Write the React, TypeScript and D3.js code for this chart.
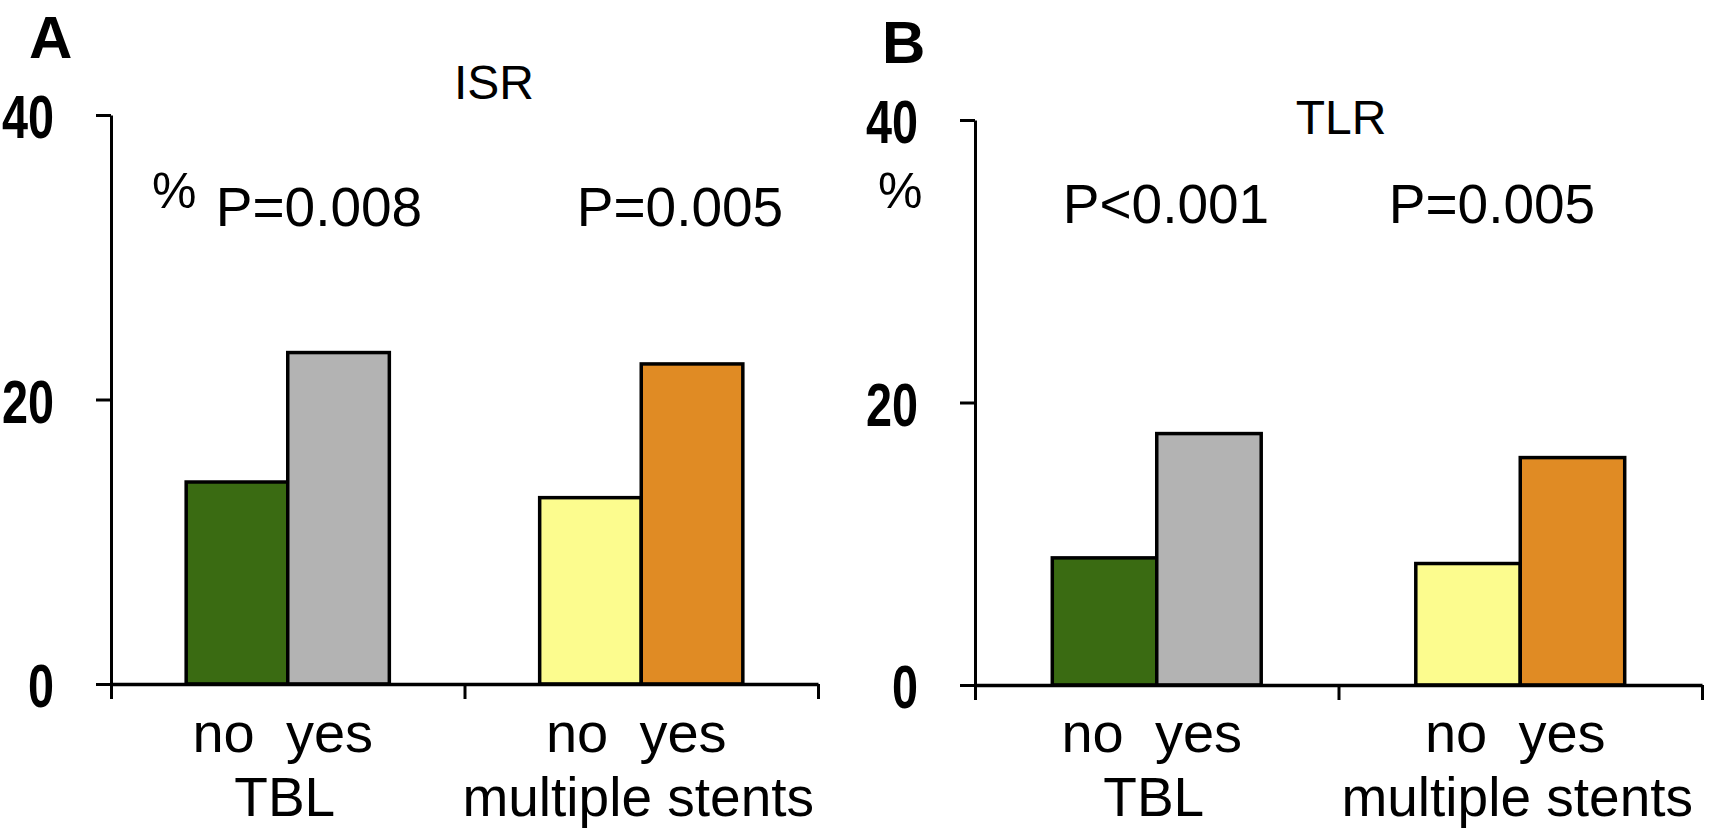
import React, { useEffect, useRef } from 'react';
import * as d3 from 'd3';

// categories and values
const groups = ['TBL', 'multiple stents'];
const levels = ['no', 'yes'];
const yTicks = [0, 20, 40];

const isrNo = [14.2, 13.1];
const isrYes = [23.3, 22.5];
const tlrNo = [9.0, 8.6];
const tlrYes = [17.8, 16.1];

const isrP = ['P=0.008', 'P=0.005'];
const tlrP = ['P<0.001', 'P=0.005'];

// fill per group / level
const fills = [
  ['#3a6b12', '#b3b3b3'],
  ['#fcfc8e', '#e08b24'],
];

const W = 1714;
const H = 831;
const sans = '"Liberation Sans", Arial, sans-serif';

interface Panel {
  letter: string;
  title: string;
  no: number[];
  yes: number[];
  p: string[];
  left: number;
  right: number;
  top: number;
  bottom: number;
  titleX: number;
  titleY: number;
  letterX: number;
  letterY: number;
  pctX: number;
  pctY: number;
  pX: number[];
  pY: number;
}

const panels: Panel[] = [
  {
    letter: 'A', title: 'ISR', no: isrNo, yes: isrYes, p: isrP,
    left: 111, right: 818, top: 115, bottom: 684,
    titleX: 494, titleY: 99, letterX: 29, letterY: 58,
    pctX: 152, pctY: 208, pX: [319, 680], pY: 226,
  },
  {
    letter: 'B', title: 'TLR', no: tlrNo, yes: tlrYes, p: tlrP,
    left: 975, right: 1702, top: 120, bottom: 685,
    titleX: 1341, titleY: 134, letterX: 882, letterY: 63,
    pctX: 878, pctY: 208, pX: [1166, 1492], pY: 223,
  },
];

const App: React.FC = () => {
  const svgRef = useRef<SVGSVGElement>(null);

  useEffect(() => {
    if (!svgRef.current) return;
    const root = d3.select(svgRef.current);
    root.selectAll('*').remove();

    root.append('rect').attr('width', W).attr('height', H).attr('fill', 'white');

    panels.forEach(pn => {
      const w = pn.right - pn.left;
      const g = root.append('g').attr('transform', `translate(${pn.left},0)`);

      const y = d3.scaleLinear().domain([0, 40]).range([pn.bottom, pn.top]);
      const x0 = d3.scaleBand<string>().domain(groups).range([0, w]).paddingInner(0).paddingOuter(0);
      const x1 = d3.scaleBand<string>().domain(levels).range([0, x0.bandwidth()]).paddingInner(0).paddingOuter(0.74);

      // bars
      groups.forEach((grp, gi) => {
        const vals = [pn.no[gi], pn.yes[gi]];
        g.append('g')
          .selectAll('rect')
          .data(levels)
          .join('rect')
          .attr('x', (lv) => (x0(grp) as number) + (x1(lv) as number))
          .attr('y', (_, i) => y(vals[i]))
          .attr('width', x1.bandwidth())
          .attr('height', (_, i) => y(0) - y(vals[i]))
          .attr('fill', (_, i) => fills[gi][i])
          .attr('stroke', '#000')
          .attr('stroke-width', 3.5);
      });

      // y axis
      const yAxis = g.append('g')
        .call(d3.axisLeft(y).tickValues(yTicks).tickSize(15).tickSizeOuter(0).tickPadding(42));
      yAxis.select('.domain').attr('stroke', '#000').attr('stroke-width', 3);
      yAxis.selectAll('.tick line').attr('stroke', '#000').attr('stroke-width', 3);
      yAxis.selectAll<SVGTextElement, number>('.tick text')
        .attr('fill', '#000')
        .attr('font-family', sans)
        .attr('font-weight', 'bold')
        .attr('font-size', 62)
        .attr('dy', '0.37em')
        .attr('textLength', d => String(d).length * 26)
        .attr('lengthAdjust', 'spacingAndGlyphs');

      // x axis, ticks on the group boundaries
      const xb = d3.scaleLinear().domain([0, groups.length]).range([0, w]);
      const xAxis = g.append('g')
        .attr('transform', `translate(0,${pn.bottom})`)
        .call(d3.axisBottom(xb).tickValues(d3.range(groups.length + 1)).tickSize(15).tickSizeOuter(0).tickFormat(() => ''));
      xAxis.select('.domain').attr('stroke', '#000').attr('stroke-width', 3.5);
      xAxis.selectAll('.tick line').attr('stroke', '#000').attr('stroke-width', 3);

      // category labels
      groups.forEach((grp, gi) => {
        const cx = (x0(grp) as number) + x0.bandwidth() / 2;
        g.append('text')
          .attr('x', cx - 5)
          .attr('y', 752)
          .attr('text-anchor', 'middle')
          .attr('font-family', sans)
          .attr('font-size', 56)
          .style('white-space', 'pre')
          .text(levels.join('  '));
        g.append('text')
          .attr('x', cx - 3)
          .attr('y', 816)
          .attr('text-anchor', 'middle')
          .attr('font-family', sans)
          .attr('font-size', 55)
          .text(grp);
        root.append('text')
          .attr('x', pn.pX[gi])
          .attr('y', pn.pY)
          .attr('text-anchor', 'middle')
          .attr('font-family', sans)
          .attr('font-size', 55)
          .text(pn.p[gi]);
      });

      // panel letter, title, unit
      root.append('text')
        .attr('x', pn.letterX)
        .attr('y', pn.letterY)
        .attr('font-family', sans)
        .attr('font-weight', 'bold')
        .attr('font-size', 60)
        .text(pn.letter);
      root.append('text')
        .attr('x', pn.titleX)
        .attr('y', pn.titleY)
        .attr('text-anchor', 'middle')
        .attr('font-family', sans)
        .attr('font-size', 48)
        .text(pn.title);
      root.append('text')
        .attr('x', pn.pctX)
        .attr('y', pn.pctY)
        .attr('font-family', sans)
        .attr('font-size', 50)
        .text('%');
    });
  }, []);

  return (
    <div style={{ position: 'absolute', left: 0, top: 0, width: W, height: H }}>
      <svg ref={svgRef} width={W} height={H} />
    </div>
  );
};

export default App;
